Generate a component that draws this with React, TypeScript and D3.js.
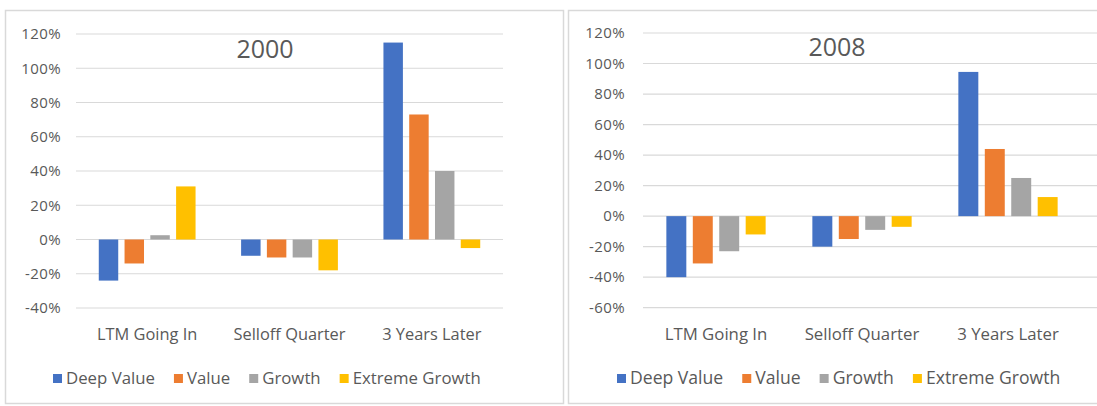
import React, { useEffect, useRef } from "react";
import * as d3 from "d3";

const categories = ["LTM Going In", "Selloff Quarter", "3 Years Later"];
const seriesNames = ["Deep Value", "Value", "Growth", "Extreme Growth"];
const seriesColors = ["#4472C4", "#ED7D31", "#A5A5A5", "#FFC000"];

// 2000 chart values (%)
const deepValue2000 = [-24, -9.5, 115];
const value2000 = [-14, -10.5, 73];
const growth2000 = [2.5, -10.5, 40];
const extremeGrowth2000 = [31, -18, -5];
const ticks2000 = [-40, -20, 0, 20, 40, 60, 80, 100, 120];

// 2008 chart values (%)
const deepValue2008 = [-40, -20, 94.5];
const value2008 = [-31, -15, 44];
const growth2008 = [-23, -9, 25];
const extremeGrowth2008 = [-12, -7, 12.5];
const ticks2008 = [-60, -40, -20, 0, 20, 40, 60, 80, 100, 120];

const FONT = "'Open Sans', sans-serif";
const TEXT = "#595959";
const GRID = "#d9d9d9";

type Panel = {
  title: string;
  series: number[][];
  ticks: number[];
  box: [number, number, number, number];
  plotX: [number, number];
  gridEnd: number;
  plotY: [number, number];
  titlePos: [number, number];
  labelX: number;
  catY: number;
  legendX: number;
  legendY: number;
  tickFont: number;
  catFont: number;
  legendFont: number;
};

const panels: Panel[] = [
  {
    title: "2000",
    series: [deepValue2000, value2000, growth2000, extremeGrowth2000],
    ticks: ticks2000,
    box: [5.5, 10.5, 558, 393],
    plotX: [76, 503],
    gridEnd: 503,
    plotY: [308, 34],
    titlePos: [265, 58],
    labelX: 61,
    catY: 340,
    legendX: 53,
    legendY: 384,
    tickFont: 15,
    catFont: 16.4,
    legendFont: 16.8,
  },
  {
    title: "2008",
    series: [deepValue2008, value2008, growth2008, extremeGrowth2008],
    ticks: ticks2008,
    box: [568.5, 10.5, 600, 393],
    plotX: [643, 1081],
    gridEnd: 1097,
    plotY: [307.7, 33],
    titlePos: [837, 56],
    labelX: 625,
    catY: 340,
    legendX: 617,
    legendY: 384,
    tickFont: 15,
    catFont: 16.8,
    legendFont: 17.6,
  },
];

export default function App() {
  const ref = useRef<SVGSVGElement>(null);

  useEffect(() => {
    const svg = d3.select(ref.current);
    svg.selectAll("*").remove();
    svg.append("rect").attr("width", 1097).attr("height", 406).attr("fill", "#fff");

    panels.forEach((p) => {
      const g = svg.append("g");
      g.append("rect")
        .attr("x", p.box[0]).attr("y", p.box[1])
        .attr("width", p.box[2]).attr("height", p.box[3])
        .attr("fill", "#fff").attr("stroke", GRID).attr("stroke-width", 1.5);

      const y = d3.scaleLinear()
        .domain([p.ticks[0], p.ticks[p.ticks.length - 1]])
        .range(p.plotY);
      const x0 = d3.scaleBand<string>()
        .domain(categories)
        .range(p.plotX)
        .paddingInner(0.32)
        .paddingOuter(0.16);
      const x1 = d3.scaleBand<string>()
        .domain(seriesNames)
        .range([0, x0.bandwidth()])
        .paddingInner(0.245);

      // gridlines
      g.selectAll(".grid").data(p.ticks).enter().append("line")
        .attr("x1", p.plotX[0]).attr("x2", p.gridEnd)
        .attr("y1", (d) => y(d)).attr("y2", (d) => y(d))
        .attr("stroke", GRID).attr("stroke-width", 1.2);

      // y labels
      g.selectAll(".yl").data(p.ticks).enter().append("text")
        .attr("x", p.labelX).attr("y", (d) => y(d))
        .attr("dy", "0.35em")
        .attr("text-anchor", "end")
        .attr("font-family", FONT).attr("font-size", p.tickFont)
        .attr("letter-spacing", 0.4)
        .attr("fill", TEXT)
        .text((d) => `${d}%`);

      // bars
      p.series.forEach((vals, si) => {
        g.selectAll(`.bar${si}`).data(vals).enter().append("rect")
          .attr("x", (_d, i) => (x0(categories[i]) as number) + (x1(seriesNames[si]) as number))
          .attr("width", x1.bandwidth())
          .attr("y", (d) => y(Math.max(0, d)))
          .attr("height", (d) => Math.abs(y(d) - y(0)))
          .attr("fill", seriesColors[si]);
      });

      // category labels
      g.selectAll(".cl").data(categories).enter().append("text")
        .attr("x", (d) => (x0(d) as number) + x0.bandwidth() / 2)
        .attr("y", p.catY)
        .attr("text-anchor", "middle")
        .attr("font-family", FONT).attr("font-size", p.catFont)
        .attr("fill", TEXT)
        .text((d) => d);

      // title
      g.append("text")
        .attr("x", p.titlePos[0]).attr("y", p.titlePos[1])
        .attr("text-anchor", "middle")
        .attr("font-family", FONT).attr("font-size", 25)
        .attr("fill", TEXT)
        .text(p.title);

      // legend
      let lx = p.legendX;
      seriesNames.forEach((name, si) => {
        g.append("rect")
          .attr("x", lx).attr("y", p.legendY - 10)
          .attr("width", 9).attr("height", 9)
          .attr("fill", seriesColors[si]);
        const t = g.append("text")
          .attr("x", lx + 13).attr("y", p.legendY)
          .attr("font-family", FONT).attr("font-size", p.legendFont)
          .attr("fill", TEXT)
          .text(name);
        const w = (t.node() as SVGTextElement).getComputedTextLength();
        lx += 13 + w + 19;
      });
    });
  }, []);

  return (
    <svg
      ref={ref}
      width={1097}
      height={406}
      style={{ position: "absolute", left: 0, top: 0 }}
    />
  );
}
